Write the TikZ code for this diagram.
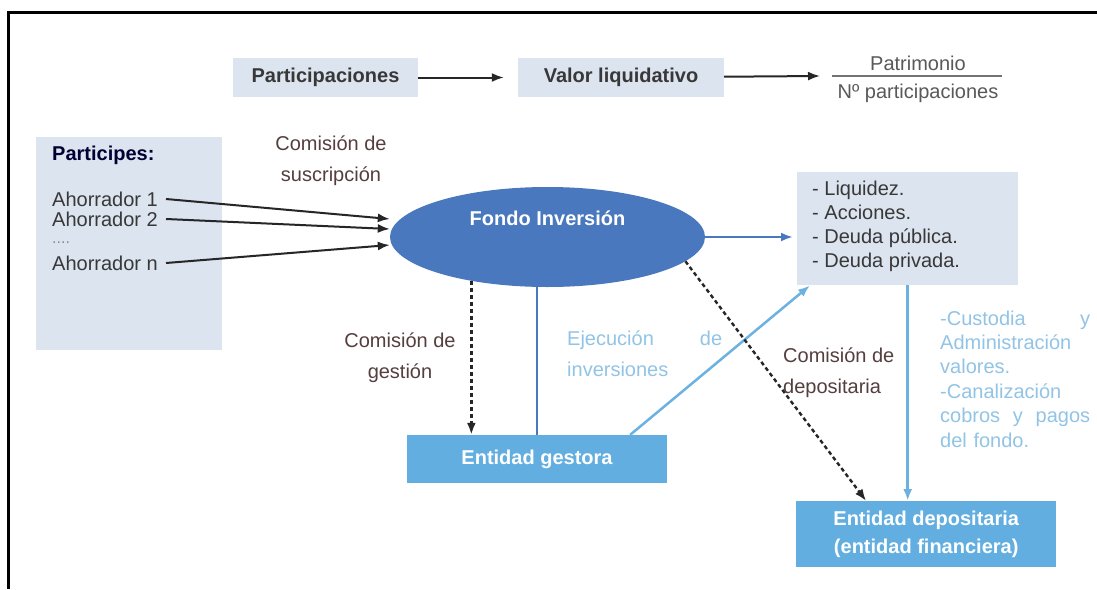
\documentclass[tikz,border=0pt]{standalone}
\usepackage{fontspec}
\setmainfont{Liberation Sans}
\usetikzlibrary{arrows.meta,shapes.geometric}
\definecolor{cCaja}{HTML}{DCE4EF}
\definecolor{cFondo}{HTML}{4A78BE}
\definecolor{cEntidad}{HTML}{62AEE0}
\definecolor{cFlecha}{HTML}{6CB2E0}
\definecolor{cClaro}{HTML}{92C4E6}
\definecolor{cComision}{HTML}{553E3E}
\definecolor{cTexto}{HTML}{383838}
\begin{document}
\begin{tikzpicture}[x=1pt,y=-1pt,>={Latex[length=12pt,width=9pt]},
    caja/.style={fill=cCaja,inner sep=0pt},
    entidad/.style={fill=cEntidad,text=white,inner sep=0pt,align=center,
      font=\bfseries\fontsize{20}{28}\selectfont},
    txt/.style={font=\fontsize{20}{24}\selectfont,text=cTexto,inner sep=0pt},
    negrita/.style={font=\bfseries\fontsize{20}{24}\selectfont,text=cTexto,inner sep=0pt},
    comi/.style={font=\fontsize{20}{31}\selectfont,text=cComision,inner sep=0pt,align=center},
    claro/.style={text=cClaro,inner sep=0pt,align=left},
    negra/.style={->,line width=2pt,black!85},
    punteada/.style={->,line width=2.4pt,black!85,dash pattern=on 4pt off 3pt},
    azul/.style={line width=2.5pt,cFondo},
    celeste/.style={->,line width=2.5pt,cFlecha}]
  \useasboundingbox (0,0) rectangle (1097,589);
  \fill[white] (0,0) rectangle (1097,589);
  \draw[line width=3pt] (1097,12) -- (8,12) -- (8,589);

  \node[caja,negrita,minimum width=185,minimum height=39] (part) at (325.5,77.5) {Participaciones};
  \node[caja,negrita,minimum width=206,minimum height=39] (valor) at (621,77.5) {Valor liquidativo};
  \node[txt,text=black!65] (patr) at (918,63) {Patrimonio};
  \node[txt,text=black!65] (nparts) at (918,93) {Nº participaciones};
  \coordinate (fracizq) at (832,76);
  \coordinate (fracder) at (1002,76);
  \draw[line width=2pt,black!55] (fracizq) -- (fracder);
  \draw[negra] (part) -- ([xshift=-14pt]valor.west);
  \draw[negra] (valor) -- ([xshift=-12pt]fracizq);

  \node[caja,minimum width=186,minimum height=213] (participes) at (129,243.5) {};
  \node[negrita,anchor=west,text=black!80!blue] (titulo) at (52,155) {Participes:};
  \foreach \y/\n/\t in {199/ah1/Ahorrador 1,219/ah2/Ahorrador 2,263/ahn/Ahorrador n}
    \node[txt,anchor=west] (\n) at (52,\y) {\t};
  \node[txt,anchor=west,font=\fontsize{16}{18}\selectfont,text=black!45] (puntos) at (52,243) {....};

  \node[ellipse,fill=cFondo,minimum width=315,minimum height=100,inner sep=0pt] (fondo) at (547.5,237) {};
  \node[negrita,text=white] (fondotxt) at (547.5,218) {Fondo Inversión};
  \draw[negra] ([xshift=8pt]ah1.east) -- ([yshift=18pt]fondo.west);
  \draw[negra] ([xshift=8pt]ah2.east) -- ([yshift=8pt]fondo.west);
  \draw[negra] ([xshift=8pt]ahn.east) -- ([yshift=-8pt]fondo.west);
  \node[comi] (comsus) at (331,161) {Comisión de\\suscripción};

  \node[caja,minimum width=221,minimum height=113,anchor=north west] (lista) at (797,172) {};
  \node[txt,anchor=west,align=left] (items) at (812,226)
    {- Liquidez.\\- Acciones.\\- Deuda pública.\\- Deuda privada.};
  \draw[->,line width=2.5pt,cFondo,shorten >=4pt] (fondo.east) -- (fondo.east -| lista.west);

  \node[entidad,minimum width=260,minimum height=48] (gestora) at (537,459) {Entidad gestora};
  \draw[punteada] (fondo.210) -- (fondo.210 |- gestora.north);
  \draw[azul] (gestora.north |- fondo.south) -- (gestora.north);
  \draw[celeste] ([xshift=-37pt]gestora.north east) -- ([xshift=13pt]lista.south west);
  \node[comi] (comges) at (400,357.5) {Comisión de\\gestión};
  \node[claro,anchor=west,text width=155,font=\fontsize{20}{31}\selectfont] (ejec) at (567,353.5)
    {Ejecución\hfill de\\inversiones};

  \node[entidad,minimum width=260,minimum height=66,anchor=north west] (depositaria) at (796,501)
    {Entidad depositaria\\(entidad financiera)};
  \draw[punteada] (fondo.350) -- ([xshift=-60pt]depositaria.north);
  \draw[celeste] (lista.south) -- (lista.south |- depositaria.north);
  \node[comi,align=left,anchor=west] (comdep) at (783,372.5) {Comisión de\\depositaria};
  \node[claro,anchor=west,text width=150,font=\fontsize{20}{24.4}\selectfont] (custodia) at (940,379)
    {-Custodia\hfill y\\Administración\\valores.\\-Canalización\\cobros\hfill y\hfill pagos\\del fondo.};
\end{tikzpicture}
\end{document}
